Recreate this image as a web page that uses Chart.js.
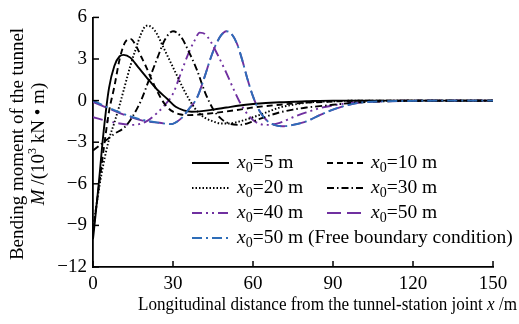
<!DOCTYPE html>
<html><head><meta charset="utf-8">
<script src="https://cdn.jsdelivr.net/npm/chart.js@4/dist/chart.umd.min.js"></script>
<style>html,body{margin:0;padding:0;background:#fff}#c{display:block}</style>
</head><body>
<canvas id="c" width="519" height="324"></canvas>
<script>
// ---- data ----
const xTicks = [0, 30, 60, 90, 120, 150];
const yTicks = [-12, -9, -6, -3, 0, 3, 6];

const x5  = [0, 2, 4, 6, 8, 10, 11.5, 14, 17, 20, 24, 28, 31, 34, 37, 40, 45, 50, 55, 60, 70, 80, 90, 150];
const m5  = [-10, -6.3, -2.2, 0.9, 2.5, 3.2, 3.3, 3.1, 2.4, 1.7, 0.8, 0.1, -0.45, -0.7, -0.8, -0.78, -0.65, -0.5, -0.35, -0.25, -0.12, -0.05, 0, 0];

const x10 = [0, 2, 4, 6, 8, 10, 12, 14, 16, 18, 20, 22, 24, 26, 28, 30, 33, 36, 40, 45, 50, 55, 60, 70, 80, 90, 100, 150];
const m10 = [-9.5, -6.5, -3.5, -0.8, 1.0, 3.0, 4.2, 4.45, 4.0, 3.2, 2.4, 1.5, 0.7, 0.0, -0.5, -0.8, -1.0, -1.05, -1.0, -0.9, -0.78, -0.65, -0.5, -0.3, -0.15, -0.07, 0, 0];

const x20 = [0, 3, 6, 8, 10, 12, 14, 16, 18, 20, 22, 24, 26, 28, 30, 32, 34, 36, 38, 40, 42, 45, 48, 51, 55, 60, 65, 70, 75, 80, 90, 100, 150];
const m20 = [-9.2, -5.5, -2.8, -1.6, -0.3, 1.1, 2.5, 3.7, 4.8, 5.4, 5.3, 4.8, 4.0, 3.2, 2.4, 1.6, 0.8, 0.1, -0.5, -0.95, -1.25, -1.5, -1.65, -1.65, -1.5, -1.2, -0.85, -0.5, -0.3, -0.15, -0.05, 0, 0];

const x30 = [0, 4, 8, 12, 15, 18, 21, 24, 27, 30, 33, 36, 39, 42, 45, 48, 51, 55, 60, 65, 70, 75, 80, 85, 90, 100, 110, 120, 150];
const m30 = [-3.6, -3.0, -2.4, -1.9, -1.1, 0.0, 1.5, 3.0, 4.4, 5.0, 4.6, 3.5, 2.2, 0.6, -0.6, -1.3, -1.65, -1.75, -1.5, -1.15, -0.85, -0.65, -0.5, -0.4, -0.3, -0.12, -0.05, 0, 0];

const x40 = [0, 5, 10, 15, 20, 24, 27, 30, 33, 36, 38, 40, 42, 44, 47, 50, 53, 55, 58, 62, 66, 70, 75, 80, 85, 90, 95, 100, 110, 120, 150];
const m40 = [-1.2, -1.45, -1.65, -1.75, -1.5, -0.9, -0.3, 0.5, 2.0, 3.5, 4.3, 4.9, 4.8, 4.3, 3.2, 2.0, 0.7, -0.1, -1.0, -1.65, -1.75, -1.6, -1.2, -0.85, -0.55, -0.35, -0.2, -0.08, -0.02, 0, 0];

const x50 = [0, 5, 10, 15, 20, 25, 29, 33, 36, 39, 42, 44, 46, 48, 50, 52, 54, 56, 58, 60, 62, 65, 68, 71, 75, 80, 85, 90, 95, 100, 110, 120, 130, 150];
const m50 = [-0.1, -0.5, -0.9, -1.25, -1.5, -1.6, -1.7, -1.3, -0.6, 0.2, 1.8, 3.0, 4.0, 4.7, 5.0, 4.8, 4.1, 2.9, 1.5, 0.3, -0.6, -1.4, -1.75, -1.85, -1.75, -1.5, -1.05, -0.65, -0.35, -0.15, -0.05, -0.02, 0, 0];
const m50free = [0, -0.45, -0.85, -1.2, -1.45, -1.6, -1.7, -1.3, -0.6, 0.2, 1.8, 3.0, 4.0, 4.7, 5.0, 4.8, 4.1, 2.9, 1.5, 0.3, -0.6, -1.4, -1.75, -1.85, -1.75, -1.5, -1.05, -0.65, -0.35, -0.15, -0.05, -0.02, 0, 0];

const legendX0 = ['5', '10', '20', '30', '40', '50', '50'];
const legendSuffix = [' m', ' m', ' m', ' m', ' m', ' m', ' m (Free boundary condition)'];

// ---- build datasets ----
const pts = (xs, ys) => xs.map((x, i) => ({x: x, y: ys[i]}));
const BLACK = '#000000', PURPLE = '#7030A0', BLUE = '#2E6DB8';
const series = [
  {xs: x5,  ys: m5,  color: BLACK,  dash: []},
  {xs: x10, ys: m10, color: BLACK,  dash: [6, 4]},
  {xs: x20, ys: m20, color: BLACK,  dash: [1.5, 2]},
  {xs: x30, ys: m30, color: BLACK,  dash: [7, 3, 1.5, 3]},
  {xs: x40, ys: m40, color: PURPLE, dash: [10, 4, 2, 4, 2, 4]},
  {xs: x50, ys: m50, color: PURPLE, dash: [14, 6]},
  {xs: x50, ys: m50free, color: BLUE, dash: [10, 4, 2, 4]}
];
const datasets = series.map((s, i) => ({
  label: 'x0=' + legendX0[i] + legendSuffix[i],
  data: pts(s.xs, s.ys),
  borderColor: s.color,
  borderDash: s.dash,
  borderWidth: 1.9,
  pointRadius: 0,
  fill: false,
  order: i === 6 ? 0 : 1,
  cubicInterpolationMode: 'monotone',
  x0: legendX0[i],
  suffix: legendSuffix[i]
}));

const FONT = "'Liberation Serif', 'Times New Roman', serif";

const extras = {
  id: 'extras',
  afterDraw(chart) {
    const ctx = chart.ctx, xs = chart.scales.x, ys = chart.scales.y;
    const ca = chart.chartArea;
    ctx.save();
    // inward ticks
    ctx.strokeStyle = '#000'; ctx.lineWidth = 1.5; ctx.setLineDash([]);
    xTicks.forEach(v => { const p = xs.getPixelForValue(v); ctx.beginPath(); ctx.moveTo(p, ca.bottom); ctx.lineTo(p, ca.bottom - 6); ctx.stroke(); });
    yTicks.forEach(v => { const p = ys.getPixelForValue(v); ctx.beginPath(); ctx.moveTo(ca.left, p); ctx.lineTo(ca.left + 6, p); ctx.stroke(); });

    // legend
    const rows = [163, 188, 213, 238];
    const cols = [[192, 229, 237], [327, 364, 371]];
    chart.data.datasets.forEach((d, i) => {
      const r = Math.floor(i / 2), c = i % 2;
      const y = rows[r], col = cols[c];
      ctx.strokeStyle = d.borderColor; ctx.lineWidth = 1.9; ctx.setLineDash(d.borderDash);
      ctx.beginPath(); ctx.moveTo(col[0], y); ctx.lineTo(col[1], y); ctx.stroke();
      ctx.setLineDash([]);
      ctx.fillStyle = '#000'; ctx.textBaseline = 'middle'; ctx.textAlign = 'left';
      let tx = col[2];
      ctx.font = 'italic 19.5px ' + FONT; ctx.fillText('x', tx, y); tx += ctx.measureText('x').width;
      ctx.font = '14px ' + FONT; ctx.fillText('0', tx, y + 5); tx += ctx.measureText('0').width;
      ctx.font = '19.5px ' + FONT; ctx.fillText('=' + d.x0 + d.suffix, tx, y);
    });

    // x axis title (slightly condensed like the reference)
    ctx.fillStyle = '#000'; ctx.textBaseline = 'middle'; ctx.textAlign = 'left';
    const p1 = 'Longitudinal distance from the tunnel-station joint ', p2 = 'x', p3 = ' /m';
    ctx.font = '19px ' + FONT; const w1 = ctx.measureText(p1).width, w3 = ctx.measureText(p3).width;
    ctx.font = 'italic 19px ' + FONT; const w2 = ctx.measureText(p2).width;
    const total = w1 + w2 + w3, targetW = 379, k = targetW / total;
    ctx.save();
    ctx.translate(517 - targetW, 305); ctx.scale(k, 1);
    ctx.font = '19px ' + FONT; ctx.fillText(p1, 0, 0);
    ctx.font = 'italic 19px ' + FONT; ctx.fillText(p2, w1, 0);
    ctx.font = '19px ' + FONT; ctx.fillText(p3, w1 + w2, 0);
    ctx.restore();

    // y axis title (two lines, rotated)
    const cy = 144;
    ctx.save(); ctx.translate(18, cy); ctx.rotate(-Math.PI / 2);
    ctx.textAlign = 'center'; ctx.font = '19px ' + FONT;
    ctx.fillText('Bending moment of the tunnel', 0, 0);
    ctx.restore();
    ctx.save(); ctx.translate(39, cy); ctx.rotate(-Math.PI / 2);
    ctx.textAlign = 'left';
    const a = 'M', b = ' /(10', c = '3', d = ' kN \u2022 m)';
    ctx.font = 'italic 19px ' + FONT; const wa = ctx.measureText(a).width;
    ctx.font = '19px ' + FONT; const wb = ctx.measureText(b).width, wd = ctx.measureText(d).width;
    ctx.font = '12px ' + FONT; const wc = ctx.measureText(c).width;
    let tx = -(wa + wb + wc + wd) / 2;
    ctx.font = 'italic 19px ' + FONT; ctx.fillText(a, tx, 0); tx += wa;
    ctx.font = '19px ' + FONT; ctx.fillText(b, tx, 0); tx += wb;
    ctx.font = '12px ' + FONT; ctx.fillText(c, tx, -6); tx += wc;
    ctx.font = '19px ' + FONT; ctx.fillText(d, tx, 0);
    ctx.restore();
    ctx.restore();
  }
};

new Chart(document.getElementById('c'), {
  type: 'line',
  data: {datasets: datasets},
  options: {
    responsive: false,
    animation: false,
    layout: {padding: {top: 15, right: 26, left: 0, bottom: 0}},
    plugins: {legend: {display: false}, tooltip: {enabled: false}},
    scales: {
      x: {
        type: 'linear', min: 0, max: 150,
        afterBuildTicks: s => { s.ticks = xTicks.map(v => ({value: v})); },
        afterFit: s => { s.height = 57; },
        grid: {display: false, drawTicks: false},
        border: {display: true, color: '#000', width: 1.8},
        ticks: {color: '#000', font: {family: FONT, size: 19}, padding: 6, maxRotation: 0}
      },
      y: {
        type: 'linear', min: -12, max: 6,
        afterBuildTicks: s => { s.ticks = yTicks.map(v => ({value: v})); },
        afterFit: s => { s.width = 93; },
        grid: {display: false, drawTicks: false},
        border: {display: true, color: '#000', width: 1.8},
        ticks: {color: '#000', font: {family: FONT, size: 19}, padding: 6,
          callback: v => v < 0 ? '\u2212' + Math.abs(v) : String(v)}
      }
    }
  },
  plugins: [extras]
});
</script>
</body></html>
